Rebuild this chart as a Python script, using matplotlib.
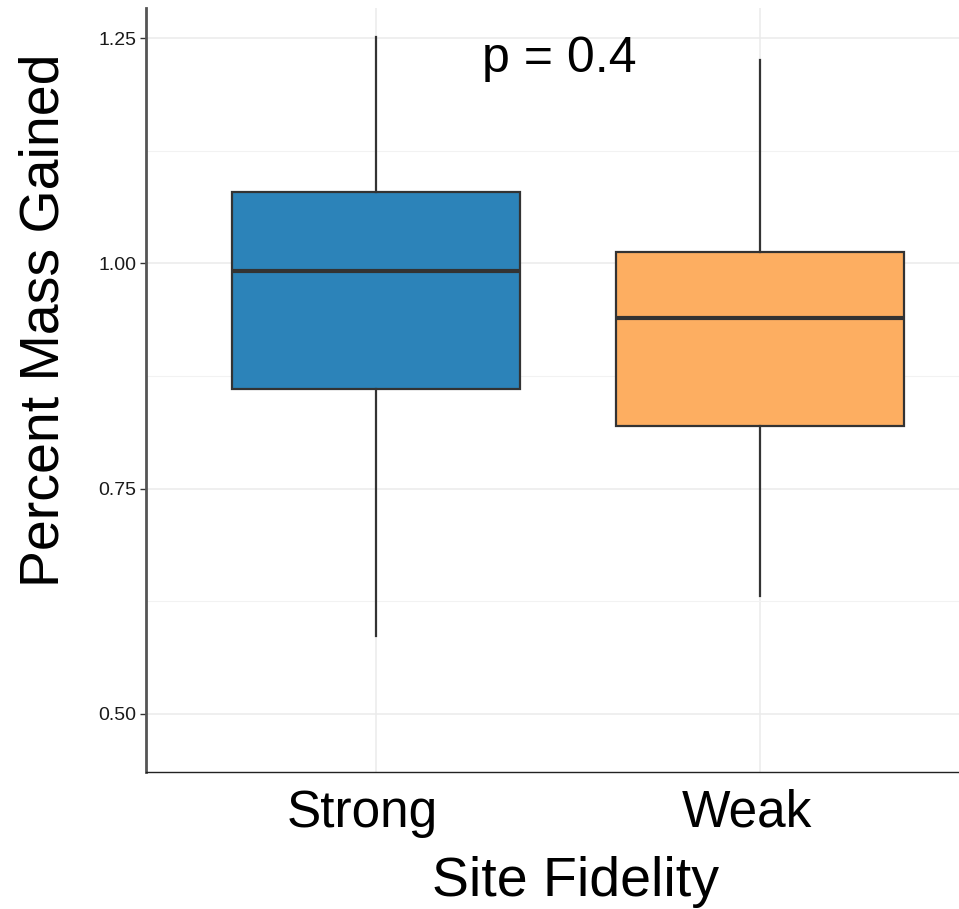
import matplotlib.pyplot as plt
from matplotlib.ticker import FixedLocator
from matplotlib.transforms import ScaledTranslation

# five-number summaries read per group
groups = ["Strong", "Weak"]
whisker_low = [0.586, 0.631]
q1 = [0.861, 0.819]
median = [0.992, 0.939]
q3 = [1.079, 1.013]
whisker_high = [1.251, 1.226]
fill_colors = ["#2C83B9", "#FDAE61"]

p_label = "p = 0.4"
y_ticks = [0.50, 0.75, 1.00, 1.25]
y_minor = [0.625, 0.875, 1.125]

plt.rcParams["font.family"] = ["Liberation Sans", "DejaVu Sans"]

W, H = 959, 909
fig = plt.figure(figsize=(W / 100, H / 100), dpi=100)
ax = fig.add_axes([146 / W, 137 / H, 813 / W, 764 / H])

stats = [
    dict(label=g, whislo=lo, q1=a, med=m, q3=b, whishi=hi, fliers=[])
    for g, lo, a, m, b, hi in zip(groups, whisker_low, q1, median, q3, whisker_high)
]
bp = ax.bxp(
    stats,
    positions=[1, 2],
    widths=0.75,
    patch_artist=True,
    showcaps=False,
    boxprops=dict(edgecolor="#333333", linewidth=1.6),
    medianprops=dict(color="#333333", linewidth=3),
    whiskerprops=dict(color="#333333", linewidth=1.6),
    zorder=3,
)
for patch, c in zip(bp["boxes"], fill_colors):
    patch.set_facecolor(c)

ax.set_xlim(0.4, 2.517)
ax.set_ylim(0.4356, 1.2833)
ax.yaxis.set_major_locator(FixedLocator(y_ticks))
ax.yaxis.set_minor_locator(FixedLocator(y_minor))
ax.set_yticklabels([f"{v:.2f}" for v in y_ticks])

ax.grid(True, which="major", color="#EBEBEB", linewidth=1.1, zorder=0)
ax.grid(True, which="minor", axis="y", color="#F2F2F2", linewidth=0.8, zorder=0)
ax.set_axisbelow(True)

for side in ("top", "right"):
    ax.spines[side].set_visible(False)
ax.spines["left"].set_color("#555555")
ax.spines["left"].set_linewidth(2)
ax.spines["bottom"].set_color("#222222")
ax.spines["bottom"].set_linewidth(1)

ax.tick_params(axis="y", which="major", length=4, width=1, color="#333333",
               labelsize=14, pad=3, labelcolor="#1a1a1a")
ax.tick_params(axis="y", which="minor", length=0)
ax.tick_params(axis="x", length=0, labelsize=37, pad=12, labelcolor="black")

# category labels sit a little left of their boxes
shift = ScaledTranslation(-14 / 100, 0, fig.dpi_scale_trans)
for lbl in ax.get_xticklabels():
    lbl.set_transform(lbl.get_transform() + shift)

# axis titles placed in figure pixels
fig.text(575 / W, 1 - 882 / H, "Site Fidelity", fontsize=40,
         ha="center", va="center")
fig.text(45 / W, 1 - 320 / H, "Percent Mass Gained", fontsize=40,
         rotation=90, ha="center", va="center")

ax.text(1.475, 1.2265, p_label, fontsize=36, ha="center", va="center")

fig.savefig("out.png", dpi=100)
